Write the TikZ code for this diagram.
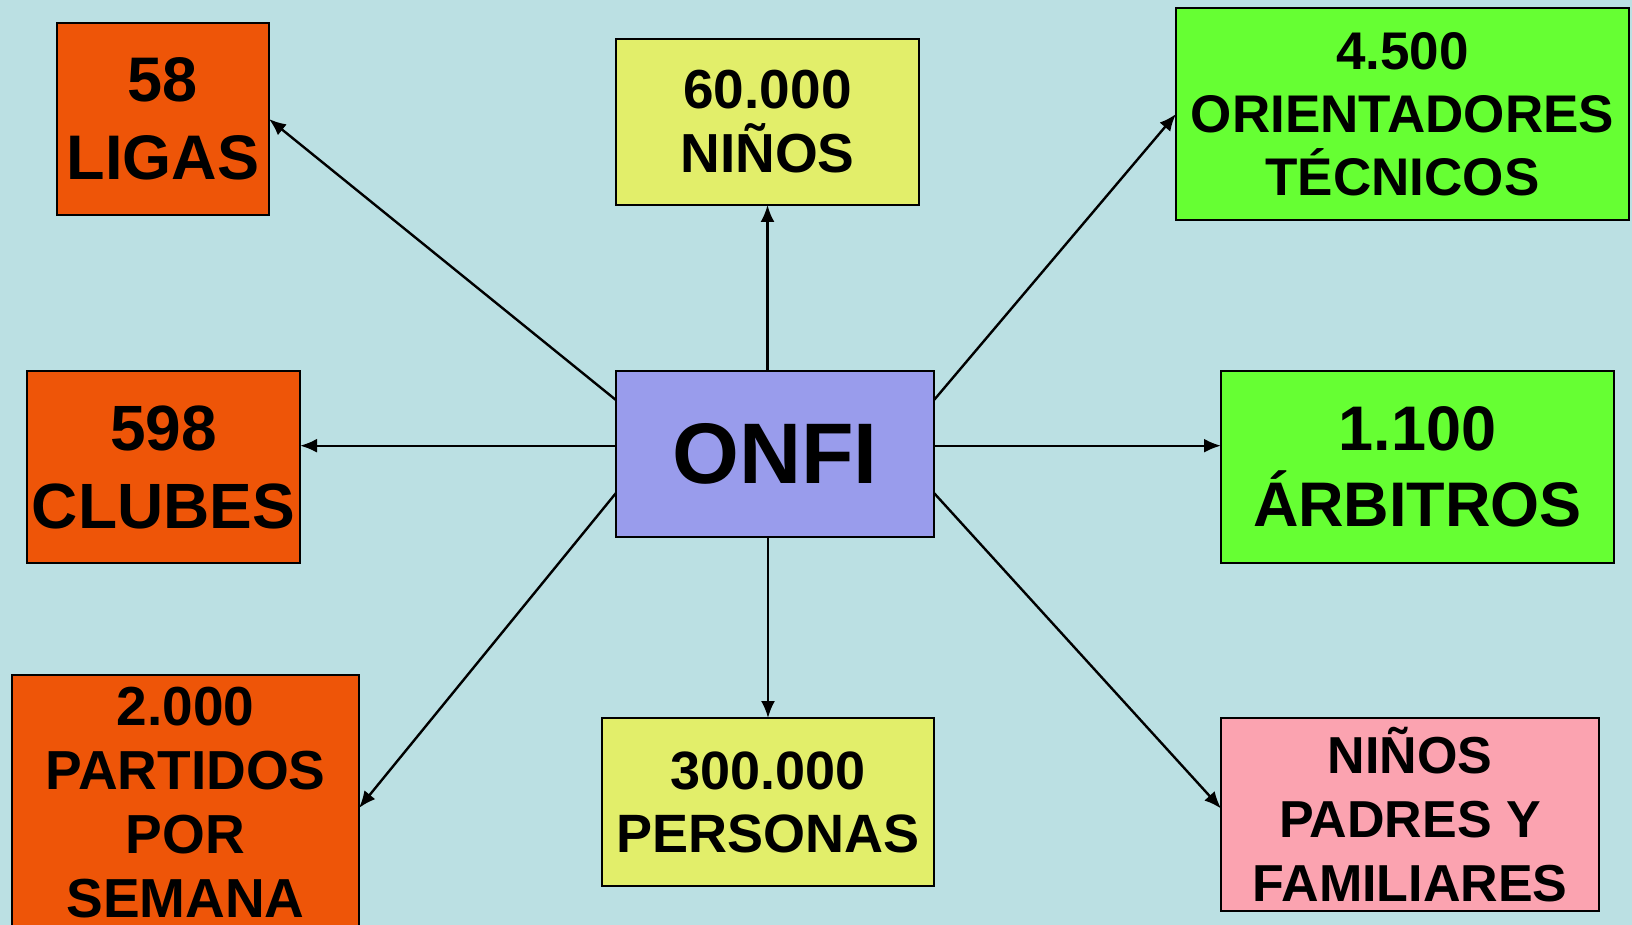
\documentclass[tikz,border=0pt]{standalone}
\usepackage{fontspec}
\setmainfont{Liberation Sans}
\usetikzlibrary{positioning}
\usetikzlibrary{arrows.meta}
\usetikzlibrary{calc}

\definecolor{bgblue}{RGB}{187,224,227}
\definecolor{boxorange}{RGB}{238,85,8}
\definecolor{boxyellow}{RGB}{226,238,106}
\definecolor{boxgreen}{RGB}{102,255,51}
\definecolor{boxpurple}{RGB}{153,156,236}
\definecolor{boxpink}{RGB}{251,163,176}

\tikzset{
	databox/.style={rectangle, draw=black, line width=2.2pt, inner sep=0pt, outer sep=0pt, align=center, text=black},
	link/.style={line width=2.4pt, -{Latex[length=17pt,width=14pt]}}
}

\begin{document}
\begin{tikzpicture}[x=1pt, y=-1pt]
		\fill[bgblue] (0,0) rectangle (1632,925);
		\useasboundingbox (0,0) rectangle (1632,925);
		% centre
		\node[databox, fill=boxpurple, minimum width=318pt, minimum height=166pt, font=\fontsize{86}{90}\selectfont\bfseries] (ONFI) at (775,454) {ONFI};
		% left column
		\node[databox, fill=boxorange, minimum width=212pt, minimum height=192pt, font=\fontsize{63}{78}\selectfont\bfseries] (Ligas) at (163,119) {58\\LIGAS};
		\node[databox, fill=boxorange, minimum width=273pt, minimum height=192pt, font=\fontsize{64}{78}\selectfont\bfseries] (Clubes) at (163.5,467) {598\\CLUBES};
		\node[databox, fill=boxorange, minimum width=347pt, minimum height=256pt, font=\fontsize{55}{64}\selectfont\bfseries] (Partidos) at (185.5,803) {2.000\\PARTIDOS\\POR\\SEMANA};
		% middle column
		\node[databox, fill=boxyellow, minimum width=303pt, minimum height=166pt, font=\fontsize{55}{64}\selectfont\bfseries] (Ninos) at (767.5,122) {60.000\\NIÑOS};
		\node[databox, fill=boxyellow, minimum width=332pt, minimum height=168pt, font=\fontsize{54}{63}\selectfont\bfseries] (Personas) at (768,802) {300.000\\PERSONAS};
		% right column
		\node[databox, fill=boxgreen, minimum width=453pt, minimum height=212pt, font=\fontsize{53}{63}\selectfont\bfseries] (Orientadores) at (1402.5,114) {4.500\\ORIENTADORES\\TÉCNICOS};
		\node[databox, fill=boxgreen, minimum width=393pt, minimum height=192pt, font=\fontsize{63}{76}\selectfont\bfseries] (Arbitros) at (1417.5,467) {1.100\\ÁRBITROS};
		\node[databox, fill=boxpink, minimum width=378pt, minimum height=193pt, font=\fontsize{52}{64}\selectfont\bfseries] (Familias) at (1410,814.5) {NIÑOS\\PADRES Y\\FAMILIARES};
		% exits on the centre box
		\coordinate (UpL) at ($(ONFI.north west)!0.175!(ONFI.south west)$);
		\coordinate (MidL) at ($(ONFI.north west)!0.45!(ONFI.south west)$);
		\coordinate (LowL) at ($(ONFI.north west)!0.735!(ONFI.south west)$);
		\coordinate (UpR) at ($(ONFI.north east)!0.175!(ONFI.south east)$);
		\coordinate (MidR) at ($(ONFI.north east)!0.45!(ONFI.south east)$);
		\coordinate (LowR) at ($(ONFI.north east)!0.735!(ONFI.south east)$);
		\draw[link] (UpL) -- (Ligas.east);
		\draw[link] (MidL) -- (MidL -| Clubes.east);
		\draw[link] (LowL) -- ($(Partidos.east)+(0,5)$);
		\draw[link] (Ninos.south |- ONFI.north) -- (Ninos.south);
		\draw[link] (Personas.north |- ONFI.south) -- (Personas.north);
		\draw[link] (UpR) -- (Orientadores.west);
		\draw[link] (MidR) -- (MidR -| Arbitros.west);
		\draw[link] (LowR) -- ($(Familias.west)+(0,-6)$);
	\end{tikzpicture}
\end{document}
